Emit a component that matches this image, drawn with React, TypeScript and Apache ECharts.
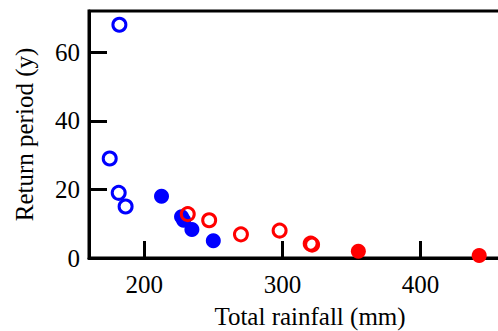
import React, { useEffect, useRef } from "react";
import * as echarts from "echarts";

const blueOpen: [number, number][] = [
  [182, 68],
  [175, 29],
  [181.5, 19],
  [186.5, 15],
];
const blueFilled: [number, number][] = [
  [212.5, 18],
  [227, 12],
  [228.5, 11],
  [234.5, 8.3],
  [250, 5],
];
const redOpen: [number, number][] = [
  [231.5, 12.8],
  [247, 11],
  [270, 6.9],
  [298, 8],
  [320.5, 4.2],
  [321.5, 3.9],
];
const redFilled: [number, number][] = [
  [355, 2],
  [442.5, 0.7],
];
const xTicks = [200, 300, 400];
const yTicks = [0, 20, 40, 60];

const FONT = "Liberation Serif";

export default function App() {
  const ref = useRef<HTMLDivElement>(null);
  useEffect(() => {
    const chart = echarts.init(ref.current!, null, { renderer: "svg" });
    const openStyle = (c: string) => ({
      color: "rgba(0,0,0,0)",
      borderColor: c,
      borderWidth: 3,
      opacity: 1,
    });
    chart.setOption({
      animation: false,
      backgroundColor: "#fff",
      grid: {
        left: 89,
        top: 11,
        width: 442,
        height: 247,
        outerBoundsMode: "none",
        containLabel: false,
        show: true,
        borderColor: "#000",
        borderWidth: 3,
      },
      xAxis: {
        type: "value",
        min: 160,
        max: 480,
        name: "Total rainfall (mm)",
        nameLocation: "middle",
        nameGap: 46,
        nameTextStyle: { fontFamily: FONT, fontSize: 25, color: "#000" },
        axisLine: { show: true, lineStyle: { color: "#000", width: 3 } },
        axisTick: {
          show: true,
          inside: true,
          length: 17,
          lineStyle: { color: "#000", width: 3 },
          customValues: xTicks,
        },
        axisLabel: {
          fontFamily: FONT,
          fontSize: 25,
          color: "#000",
          margin: 14,
          customValues: xTicks,
        },
        splitLine: { show: false },
      },
      yAxis: {
        type: "value",
        min: 0,
        max: 72,
        name: "Return period (y)",
        nameLocation: "middle",
        nameGap: 52,
        nameTextStyle: { fontFamily: FONT, fontSize: 25, color: "#000" },
        axisLine: { show: true, lineStyle: { color: "#000", width: 3 } },
        axisTick: {
          show: true,
          inside: true,
          length: 18,
          lineStyle: { color: "#000", width: 3 },
          customValues: yTicks,
        },
        axisLabel: {
          fontFamily: FONT,
          fontSize: 25,
          color: "#000",
          margin: 9,
          customValues: yTicks,
        },
        splitLine: { show: false },
      },
      series: [
        {
          type: "scatter",
          data: blueFilled,
          symbol: "circle",
          symbolSize: 15,
          itemStyle: { color: "#0000ff", opacity: 1 },
        },
        {
          type: "scatter",
          data: redFilled,
          symbol: "circle",
          symbolSize: 15,
          itemStyle: { color: "#ff0000", opacity: 1 },
        },
        {
          type: "scatter",
          data: blueOpen,
          symbol: "circle",
          symbolSize: 13,
          itemStyle: openStyle("#0000ff"),
        },
        {
          type: "scatter",
          data: redOpen,
          symbol: "circle",
          symbolSize: 13,
          itemStyle: openStyle("#ff0000"),
        },
      ],
    });
    return () => chart.dispose();
  }, []);
  return <div ref={ref} style={{ width: 498, height: 331, position: "absolute", left: 0, top: 0 }} />;
}
